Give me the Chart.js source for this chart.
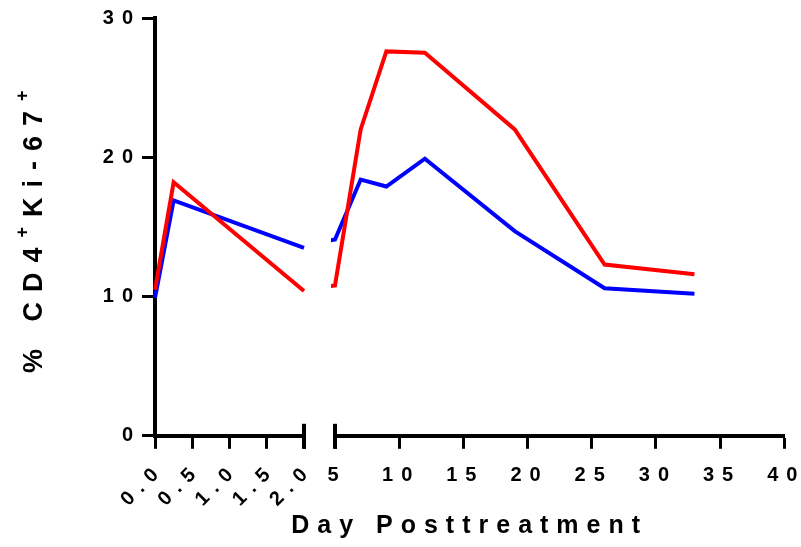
<!DOCTYPE html>
<html><head><meta charset="utf-8">
<script src="https://cdn.jsdelivr.net/npm/chart.js@4"></script>
<style>html,body{margin:0;padding:0;background:#fff}#wrap{width:801px;height:547px;position:relative}</style>
</head><body><div id="wrap"><canvas id="c"></canvas></div>
<script>
// ---- data ----
const days = [0, 0.25, 2, 5, 7, 9, 12, 19, 26, 33];
const redSeries = [10.5, 18.2, 10.4, 10.8, 22.0, 27.6, 27.5, 22.0, 12.3, 11.6];
const blueSeries = [9.9, 16.9, 13.5, 14.1, 18.4, 17.9, 19.9, 14.7, 10.6, 10.2];
const leftTicks = [0, 0.5, 1, 1.5, 2];
const rightTicks = [5, 10, 15, 20, 25, 30, 35, 40];
const yTicks = [0, 10, 20, 30];
const xTitle = 'Day Posttreatment';
const yTitleParts = [['% CD4', false], ['+', true], ['Ki-67', false], ['+', true]];

const FAM = '"Liberation Sans", Arial, Helvetica, sans-serif';
const SPACING = '8px';
const pts = arr => days.map((d, i) => ({x: d, y: arr[i]}));
const mk = (arr, color, axis) => ({
  data: pts(arr), xAxisID: axis, yAxisID: 'y', borderColor: color, backgroundColor: color,
  borderWidth: 4, pointRadius: 0, pointHoverRadius: 0, tension: 0, fill: false, clip: false,
  borderJoinStyle: 'miter'
});
const tickFont = {family: FAM, weight: 'bold', size: 20};
const gridOpts = {display: true, drawOnChartArea: false, drawTicks: true, tickLength: 13, tickWidth: 3, tickColor: '#000', color: '#000'};
const borderOpts = {display: true, width: 4, color: '#000'};
const X_H = 75.6;
const fixX = s => { s.height = X_H; s.paddingLeft = 0; s.paddingRight = 0; };

const spacingPlugin = {
  id: 'spacing',
  beforeUpdate(c) { c.ctx.letterSpacing = SPACING; },
  beforeLayout(c) { c.ctx.letterSpacing = SPACING; },
  beforeDraw(c) { c.ctx.letterSpacing = SPACING; }
};
const segClip = {
  id: 'segClip',
  beforeDatasetDraw(c, args) {
    const s = c.scales[args.meta.xAxisID];
    c.ctx.save();
    c.ctx.beginPath();
    c.ctx.rect(s.left - 4, 0, s.width + 8, c.height);
    c.ctx.clip();
  },
  afterDatasetDraw(c) { c.ctx.restore(); }
};
const breaks = {
  id: 'breaks',
  afterDraw(c) {
    const ctx = c.ctx;
    ctx.save();
    ctx.strokeStyle = '#000';
    ctx.lineWidth = 4;
    [[c.scales.xL, leftTicks[leftTicks.length - 1]], [c.scales.xR, rightTicks[0]]].forEach(([s, v]) => {
      const x = s.getPixelForValue(v);
      ctx.beginPath();
      ctx.moveTo(x, s.top - 12);
      ctx.lineTo(x, s.top + 13);
      ctx.stroke();
    });
    // y axis title with superscripts
    ctx.fillStyle = '#000';
    ctx.letterSpacing = '10px';
    ctx.textBaseline = 'alphabetic';
    ctx.textAlign = 'left';
    ctx.translate(42, 373);
    ctx.rotate(-Math.PI / 2);
    let x = 0;
    yTitleParts.forEach(([t, sup]) => {
      ctx.font = 'bold ' + (sup ? 18 : 27) + 'px ' + FAM;
      ctx.fillText(t, x, sup ? -14 : 0);
      x += ctx.measureText(t).width;
    });
    ctx.restore();
  }
};

new Chart(document.getElementById('c'), {
  type: 'line',
  data: {
    datasets: [
      mk(redSeries, '#FF0000', 'xL'), mk(blueSeries, '#0000FF', 'xL'),
      mk(redSeries, '#FF0000', 'xR'), mk(blueSeries, '#0000FF', 'xR')
    ]
  },
  options: {
    responsive: true, maintainAspectRatio: false, animation: false,
    layout: {padding: {left: 0, right: 16.7, top: 18, bottom: 5.6}},
    plugins: {
      legend: {display: false}, tooltip: {enabled: false},
      title: {display: true, text: xTitle, position: 'bottom', fullSize: false, color: '#000',
              font: {family: FAM, weight: 'bold', size: 25}, padding: 0}
    },
    scales: {
      y: {
        type: 'linear', position: 'left', min: 0, max: 30,
        afterBuildTicks: s => { s.ticks = yTicks.map(v => ({value: v})); },
        afterFit: s => { s.width = 155; },
        ticks: {color: '#000', font: tickFont, padding: 1, autoSkip: false},
        grid: gridOpts, border: borderOpts
      },
      xL: {
        type: 'linear', position: 'bottom', stack: 'x', stackWeight: 149, min: 0, max: 2,
        afterBuildTicks: s => { s.ticks = leftTicks.map(v => ({value: v})); },
        afterFit: fixX,
        ticks: {color: '#000', font: tickFont, padding: 9, labelOffset: 6, minRotation: 45, maxRotation: 45,
                autoSkip: false, callback: v => Number(v).toFixed(1)},
        grid: gridOpts, border: borderOpts
      },
      xGap: {
        type: 'linear', position: 'bottom', stack: 'x', stackWeight: 31, min: 0, max: 1,
        display: false, afterFit: fixX
      },
      xR: {
        type: 'linear', position: 'bottom', stack: 'x', stackWeight: 449.3, min: 5, max: 40,
        afterBuildTicks: s => { s.ticks = rightTicks.map(v => ({value: v})); },
        afterFit: fixX,
        ticks: {color: '#000', font: tickFont, padding: 15, labelOffset: 2, maxRotation: 0, minRotation: 0,
                autoSkip: false, callback: v => String(v)},
        grid: gridOpts, border: borderOpts
      }
    }
  },
  plugins: [spacingPlugin, segClip, breaks]
});
</script>
</body></html>
